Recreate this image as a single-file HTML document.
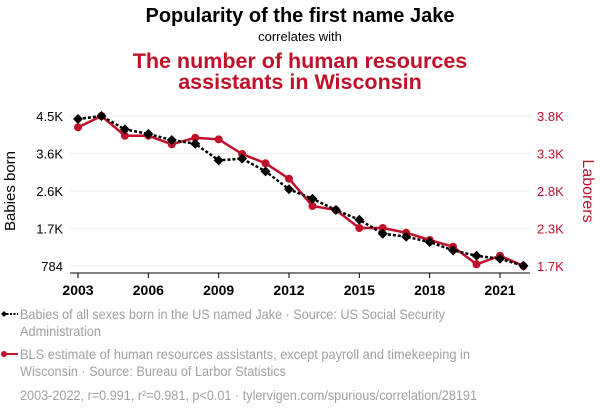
<!DOCTYPE html>
<html><head><meta charset="utf-8"><style>
body{margin:0;background:#fff;width:600px;height:414px;overflow:hidden;font-family:"Liberation Sans",sans-serif}
</style></head><body>
<svg id="c" width="600" height="414" xmlns="http://www.w3.org/2000/svg" font-family="Liberation Sans, sans-serif">
<text x="300" y="22" text-anchor="middle" font-size="20" font-weight="bold" fill="#000">Popularity of the first name Jake</text>
<text x="300" y="41" text-anchor="middle" font-size="13" fill="#000">correlates with</text>
<text x="300" y="68" text-anchor="middle" font-size="21.5" font-weight="bold" fill="#c0102a">The number of human resources</text>
<text x="300" y="89" text-anchor="middle" font-size="21.5" font-weight="bold" fill="#c0102a">assistants in Wisconsin</text>
<text transform="translate(15,191) rotate(-90)" text-anchor="middle" font-size="15" fill="#000">Babies born</text>
<text transform="translate(583,191) rotate(90)" text-anchor="middle" font-size="16" fill="#c0102a">Laborers</text>
<g id="plot"></g>
<g>
<line x1="3" y1="314" x2="18" y2="314" stroke="#000" stroke-width="2" stroke-dasharray="2,1.5"/>
<path d="M4,311 L7,314 L4,317 L1,314Z" fill="#000"/>
<text x="20" y="319" font-size="14" fill="#a0a0a0" textLength="425" lengthAdjust="spacingAndGlyphs">Babies of all sexes born in the US named Jake · Source: US Social Security</text>
<text x="20" y="336" font-size="14" fill="#a0a0a0" textLength="81" lengthAdjust="spacingAndGlyphs">Administration</text>
</g>
<g>
<line x1="3" y1="354" x2="18" y2="354" stroke="#c0102a" stroke-width="2"/>
<circle cx="4" cy="354" r="3" fill="#c0102a"/>
<text x="20" y="359" font-size="14" fill="#a0a0a0" textLength="450" lengthAdjust="spacingAndGlyphs">BLS estimate of human resources assistants, except payroll and timekeeping in</text>
<text x="20" y="376" font-size="14" fill="#a0a0a0" textLength="266" lengthAdjust="spacingAndGlyphs">Wisconsin · Source: Bureau of Larbor Statistics</text>
</g>
<text x="20" y="400" font-size="14" fill="#a0a0a0" textLength="457" lengthAdjust="spacingAndGlyphs">2003-2022, r=0.991, r²=0.981, p&lt;0.01 · tylervigen.com/spurious/correlation/28191</text>
</svg>
<script>
const years=[2003,2004,2005,2006,2007,2008,2009,2010,2011,2012,2013,2014,2015,2016,2017,2018,2019,2020,2021,2022];
const babies=[4426,4500,4170,4054,3905,3814,3402,3443,3129,2684,2451,2170,1930,1583,1509,1378,1172,1038,964,790];
const laborers=[3641,3800,3524,3524,3403,3496,3473,3268,3138,2922,2540,2484,2232,2232,2166,2064,1970,1724,1844,1700];
const leftTicks=[784,1713,2642,3571,4500];
const leftLabels=["784","1.7K","2.6K","3.6K","4.5K"];
const rightTicks=[1700,2225,2750,3275,3800];
const rightLabels=["1.7K","2.3K","2.8K","3.3K","3.8K"];
const xTicks=[2003,2006,2009,2012,2015,2018,2021];
const NS="http://www.w3.org/2000/svg";
const X=y=>78+(y-2003)*(422/18);
const YL=v=>266-(v-784)/(4500-784)*150;
const YR=v=>266-(v-1700)/(3800-1700)*150;
const g=document.getElementById('plot');
function mk(t,a,p){const e=document.createElementNS(NS,t);for(const k in a)e.setAttribute(k,a[k]);(p||g).appendChild(e);return e;}
leftTicks.forEach((v,i)=>{
 const l=mk('line',{x1:70,x2:530,y1:YL(v),y2:YL(v),stroke:'#eee','stroke-width':1});
 
 
 const t=mk('text',{x:63,y:YL(v)+5,'text-anchor':'end','font-size':13,fill:'#000'});t.textContent=leftLabels[i];
 
 
});
rightTicks.forEach((v,i)=>{
 const t=mk('text',{x:537,y:YR(v)+5,'font-size':13,fill:'#c0102a'});t.textContent=rightLabels[i];
 
 
});
const ax=mk('line',{x1:70,x2:530,y1:273,y2:273,stroke:'#000','stroke-width':1});


xTicks.forEach(y=>{
 mk('line',{x1:X(y),x2:X(y),y1:273,y2:278,stroke:'#000'});
 const t=mk('text',{x:X(y),y:295,'text-anchor':'middle','font-size':14,'font-weight':'bold',fill:'#000'});t.textContent=y;
 
 
});
const rp=mk('polyline',{points:years.map((y,i)=>X(y)+','+YR(laborers[i])).join(' '),fill:'none',stroke:'#c0102a','stroke-width':2.5});


years.forEach((y,i)=>{const c=mk('circle',{cx:X(y),cy:YR(laborers[i]),r:4,fill:'#c0102a'});
 
 });
const bp=mk('polyline',{points:years.map((y,i)=>X(y)+','+YL(babies[i])).join(' '),fill:'none',stroke:'#000','stroke-width':2.5,'stroke-dasharray':'3,2'});


years.forEach((y,i)=>{const x=X(y),v=YL(babies[i]);const d=mk('path',{d:`M${x},${v-5}L${x+5},${v}L${x},${v+5}L${x-5},${v}Z`,fill:'#000'});
 
 });
</script>
</body></html>
